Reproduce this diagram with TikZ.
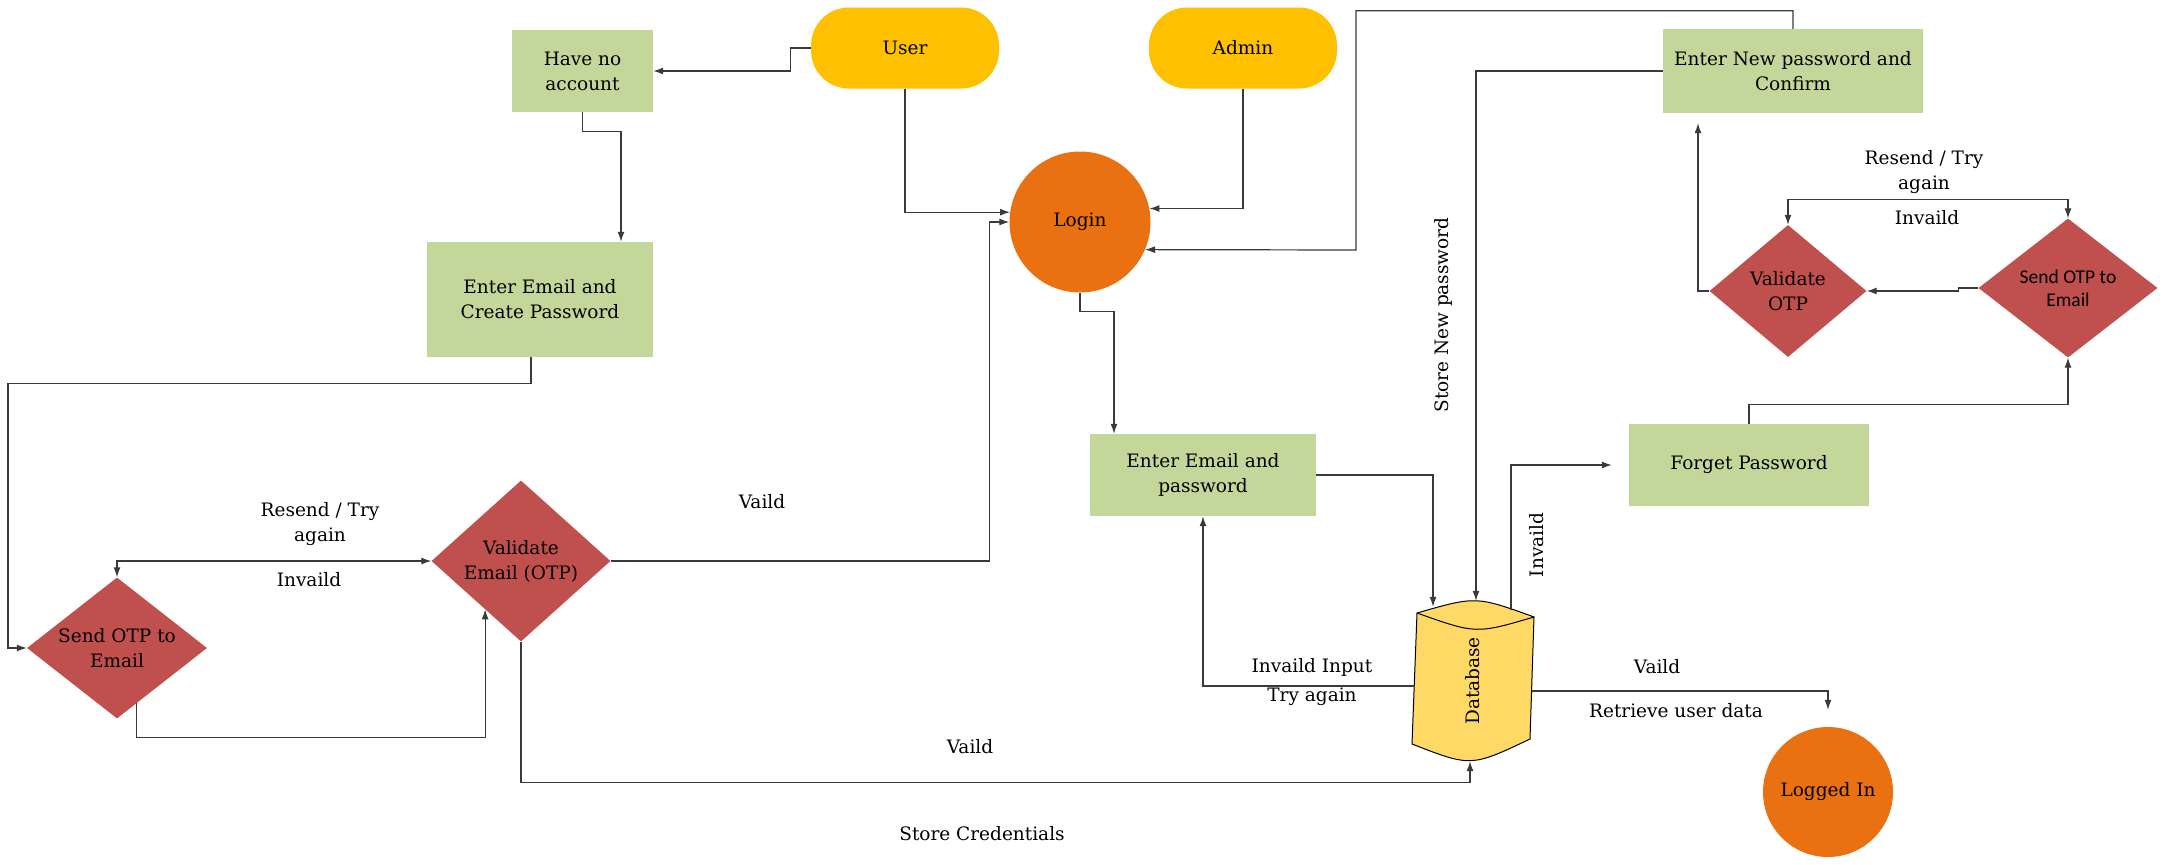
\documentclass[tikz,border=0pt]{standalone}
\usepackage{fontspec}
\setmainfont{DejaVu Serif}
\newfontfamily\calibrifont{Carlito}
\usetikzlibrary{shapes.geometric,arrows.meta,calc}
\definecolor{boxgreen}{HTML}{C4D79B}
\definecolor{actoryellow}{HTML}{FFC000}
\definecolor{termorange}{HTML}{E97112}
\definecolor{decred}{HTML}{C0504D}
\definecolor{dbyellow}{HTML}{FFD966}
\definecolor{linegray}{HTML}{3A3A3A}
\begin{document}
\begin{tikzpicture}[x=1pt,y=-1pt,
  font=\fontsize{18.5}{25}\selectfont,
  proc/.style={rectangle, fill=boxgreen, align=center, inner sep=2pt},
  actor/.style={rectangle, rounded corners=38pt, fill=actoryellow, minimum width=188, minimum height=81, inner sep=0},
  term/.style={circle, fill=termorange, inner sep=0},
  decision/.style={diamond, fill=decred, inner sep=0},
  lbl/.style={align=center, inner sep=0},
  tip/.tip={Latex[length=10pt,width=7pt]},
  link/.style={draw=linegray, line width=1.2pt, -tip},
  twoway/.style={draw=linegray, line width=1.2pt, tip-tip}
]
\useasboundingbox (0,0) rectangle (2164,865);

% actors
\node[actor] (user) at (905,48) {User};
\node[actor] (admin) at (1243,48) {Admin};

% registration branch
\node[proc, minimum width=141, minimum height=82] (hna) at (582.5,71) {Have no\\account};
\node[proc, minimum width=226, minimum height=115] (ecp) at (540,299.5) {Enter Email and\\Create Password};
\node[decision, minimum width=180, minimum height=141,
      label={[lbl]center:{Send OTP to\\Email}}] (sl) at (117,648) {};
\node[decision, minimum width=179, minimum height=161,
      label={[lbl]center:{Validate\\Email (OTP)}}] (ve) at (521,561) {};

% login branch
\node[term, minimum size=141] (login) at (1080,222) {Login};
\node[proc, minimum width=226, minimum height=82] (eep) at (1203,475) {Enter Email and\\password};

% database cylinder
\filldraw[fill=dbyellow, draw=black, line width=1pt]
  (1417,613) .. controls (1476,596) .. (1534,617) -- (1530,739)
  .. controls (1471,767) .. (1412,744) -- cycle;
\draw[black, line width=1pt] (1417,613) .. controls (1476,634) .. (1534,617);
\node[lbl, minimum width=118, minimum height=160,
      label={[lbl, rotate=90]center:Database}] (db) at (1473,681) {};

\node[term, minimum size=130] (li) at (1828,792) {Logged In};

% password reset branch
\node[proc, minimum width=240, minimum height=82] (fp) at (1749,465) {Forget Password};
\node[decision, minimum width=179, minimum height=139,
      label={[lbl, font=\calibrifont\fontsize{19.5}{23}\selectfont]center:{Send OTP to\\Email}}] (sr) at (2068,288) {};
\node[decision, minimum width=157, minimum height=132,
      label={[lbl]center:{Validate\\OTP}}] (vr) at (1788,291) {};
\node[proc, minimum width=260, minimum height=84] (enp) at (1793,71) {Enter New password and\\Confirm};

% connectors
\draw[link] (user.west) -- ++(-20,0) |- (hna.east);
\draw[link] (hna.south) -- ++(0,19) -| ([xshift=81]ecp.north);
\draw[link] (user.south) |- (login.172);
\draw[link] (admin.south) |- (login.11);
\draw[link] (enp.north) -- ++(0,-18) -| (1356,250) -- (login.-23);
\draw[link] (ve.east) -- ++(379,0) |- (login.west);
\draw[link] ([xshift=-9]ecp.south) -- ++(0,26) -- ++(-523,0) |- (sl.west);
\draw[link] ($(sl.south)!0.22!(sl.east)$) -- ++(0,34) -| ($(ve.west)!0.6!(ve.south)$);
\draw[twoway] (sl.north) |- (ve.west);
\draw[link] (ve.south) -- ++(0,141) -| ([xshift=-3]db.south);
\draw[link] (login.south) -- ++(0,19) -| ([xshift=-89]eep.north);
\draw[link] (eep.east) -| ([xshift=-40,yshift=-6]db.north);
\draw[link] (enp.west) -| ([xshift=3]db.north);
\draw[link] ([xshift=38,yshift=-9]db.north) |- ([xshift=-17]fp.west);
\draw[link] ([yshift=-5]db.west) -| (eep.south);
\draw[link] ([yshift=-10]db.east) -| ([yshift=17]li.north);
\draw[link] (fp.north) -- ++(0,-19) -| (sr.south);
\draw[link] (sr.west) -- ++(-20,0) -- ++(0,3) -- (vr.east);
\draw[twoway] (vr.north) -- ++(0,-25) -| (sr.north);
\draw[link] (vr.west) -| ([xshift=-95,yshift=-10]enp.south);

% connector labels
\node[lbl] (l1) at (320,524) {Resend / Try\\again};
\node[lbl] (l2) at (309,580) {Invaild};
\node[lbl] (l3) at (762,502) {Vaild};
\node[lbl] (l4) at (970,747) {Vaild};
\node[lbl] (l5) at (982,834) {Store Credentials};
\node[lbl, rotate=90] (l6) at (1443,315) {Store New password};
\node[lbl, rotate=90] (l7) at (1537,545) {Invaild};
\node[lbl] (l8) at (1924,172) {Resend / Try\\again};
\node[lbl] (l9) at (1927,218) {Invaild};
\node[lbl] (l10) at (1312,667) {Invaild Input};
\node[lbl] (l11) at (1312,697) {Try again};
\node[lbl] (l12) at (1657,667) {Vaild};
\node[lbl] (l13) at (1676,711) {Retrieve user data};
\end{tikzpicture}
\end{document}
